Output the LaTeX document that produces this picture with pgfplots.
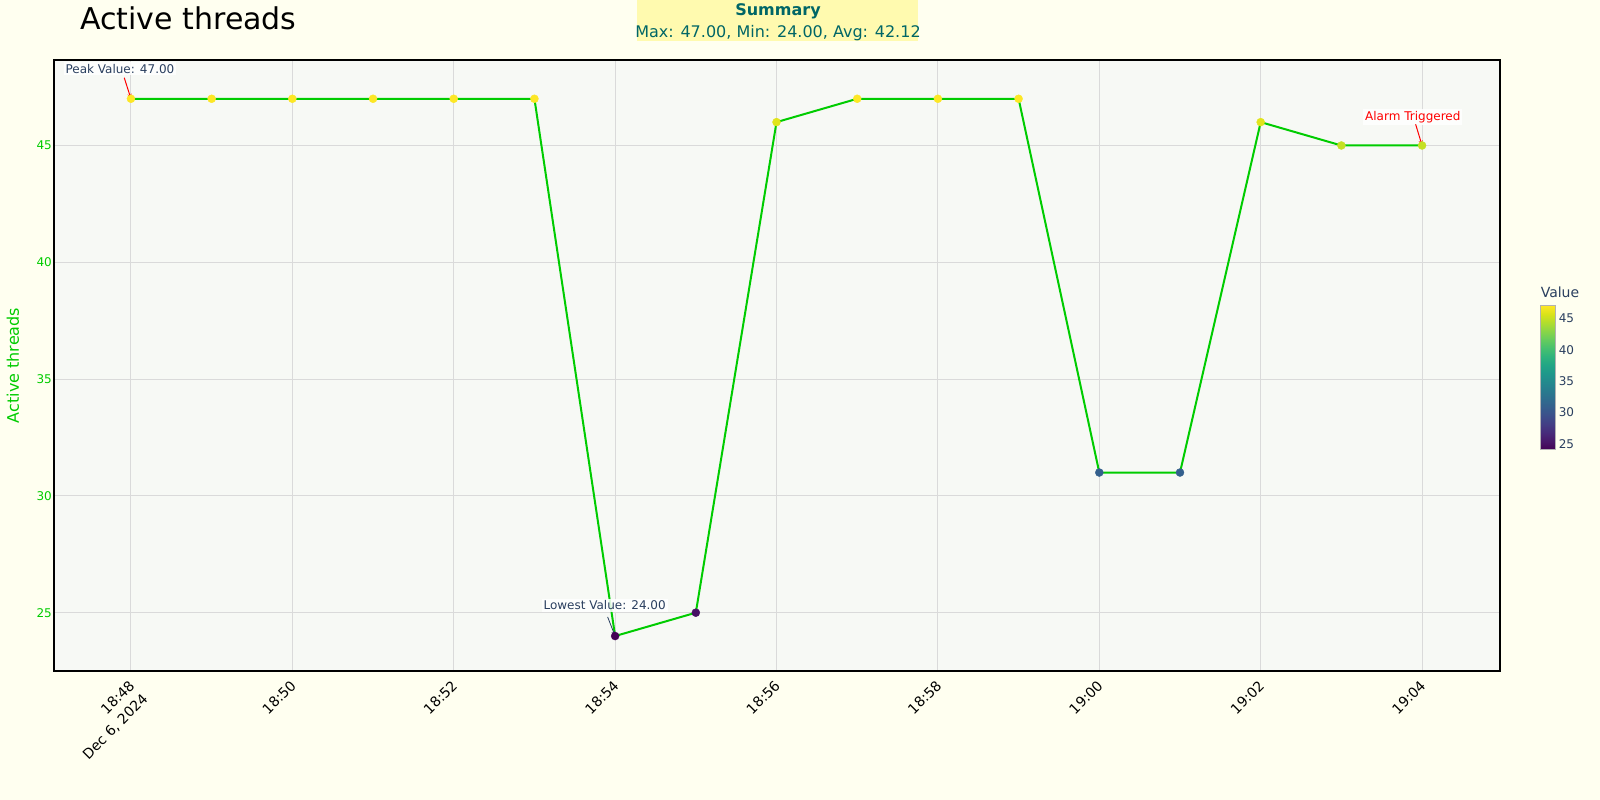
\documentclass[border=0pt]{standalone}
\usepackage{fontspec}
\setmainfont{DejaVu Sans}
\usepackage{pgfplots}
\pgfplotsset{compat=1.18}
\usetikzlibrary{arrows.meta}
\definecolor{paperbg}{RGB}{255,255,240}
\definecolor{plotbg}{RGB}{247,249,245}
\definecolor{gridc}{RGB}{218,218,218}
\definecolor{linegreen}{RGB}{0,204,0}
\definecolor{anntext}{RGB}{42,63,95}
\definecolor{sumbg}{RGB}{255,250,175}
\definecolor{sumtext}{RGB}{0,102,102}
\newcommand{\fs}[1]{\fontsize{#1}{#1}\selectfont}
\pgfplotstableread{
x y
0 47
1 47
2 47
3 47
4 47
5 47
6 24
7 25
8 46
9 47
10 47
11 47
12 31
13 31
14 46
15 45
16 45
}\datatable
\begin{document}
\begin{tikzpicture}
\fill[paperbg] (0pt,0pt) rectangle (1600pt,800pt);
\fill[sumbg] (637pt,759pt) rectangle (918pt,800pt);
\node[text=sumtext, font=\fs{16}\bfseries, anchor=base] at (778pt,784pt) {Summary};
\node[text=sumtext, font=\fs{16}, anchor=base] at (778pt,762.5pt) {Max: 47.00, Min: 24.00, Avg: 42.12};
\node[anchor=base west, font=\fs{30}, inner sep=0pt] at (80pt,770pt) {Active threads};
\begin{axis}[
  at={(54pt,129pt)}, anchor=south west, scale only axis,
  width=1446pt, height=611pt,
  xmin=-0.9536, xmax=16.966, ymin=22.504, ymax=48.66,
  axis background/.style={fill=plotbg},
  axis line style={line width=2pt, black},
  grid=major, major grid style={gridc, line width=1pt},
  major tick length=0pt,
  xtick={0,2,4,6,8,10,12,14,16},
  xticklabels={18:48,18:50,18:52,18:54,18:56,18:58,19:00,19:02,19:04},
  xticklabel style={xshift=1pt, yshift=-12pt, rotate=45, anchor=east, font=\fs{14}, inner sep=0pt},
  ytick={25,30,35,40,45},
  yticklabel style={font=\fs{12}, text=linegreen, inner sep=1pt, xshift=-1pt},
  /pgf/number format/assume math mode=true,
  ylabel={Active threads},
  ylabel style={font=\fs{16}, text=linegreen, at={(axis description cs:-0.02835,0.5)}, anchor=center},
  clip=false,
  colormap/viridis,
  point meta min=24, point meta max=47,
  colorbar,
  colorbar style={
    at={(parent axis.north east)}, anchor=north west,
    xshift=32pt, yshift=-246pt,
    scale only axis, width=15pt, height=144pt,
    ytick={25,30,35,40,45},
    yticklabel style={font=\fs{12}, text=anntext, inner sep=1pt, xshift=2pt},
    axis line style={draw=gray!60, line width=1pt},
    major tick length=0pt,
    grid=none,
    title={Value},
    title style={font=\fs{14}, text=anntext, at={(0,1)}, anchor=south west, inner sep=0pt, yshift=2pt},
    /pgf/number format/assume math mode=true,
  },
]
\addplot[linegreen, line width=2pt, mark=none] table[x=x,y=y] {\datatable};
\addplot[scatter, only marks, mark=*, mark size=4pt,
  scatter/use mapped color={draw=mapped color, fill=mapped color},
  point meta=explicit] table[x=x,y=y,meta=y] {\datatable};
% annotations
\node[font=\fs{12}, text=anntext, fill=white, fill opacity=0.85, text opacity=1, inner sep=2pt] at (axis cs:-0.136,48.29) {Peak Value: 47.00};
\draw[red, line width=1pt, -{Stealth[length=5pt,width=4pt]}] (axis cs:-0.083,47.90) -- (axis cs:0,47);
\node[font=\fs{12}, text=anntext, fill=white, fill opacity=0.85, text opacity=1, inner sep=2pt] at (axis cs:5.870,25.31) {Lowest Value: 24.00};
\draw[anntext, line width=0.8pt, -{Stealth[length=5pt,width=4pt]}] (axis cs:5.907,24.82) -- (axis cs:6,24);
\node[font=\fs{12}, text=red, fill=white, fill opacity=0.85, text opacity=1, inner sep=2pt] at (axis cs:15.885,46.22) {Alarm Triggered};
\draw[red, line width=1pt, -{Stealth[length=5pt,width=4pt]}] (axis cs:15.92,45.91) -- (axis cs:16,45);
\node[font=\fs{14}, rotate=45, inner sep=0pt] at (axis cs:-0.192,20.11) {Dec 6, 2024};
\end{axis}
\pgfresetboundingbox
\useasboundingbox (0pt,0pt) rectangle (1600pt,800pt);
\end{tikzpicture}
\end{document}
